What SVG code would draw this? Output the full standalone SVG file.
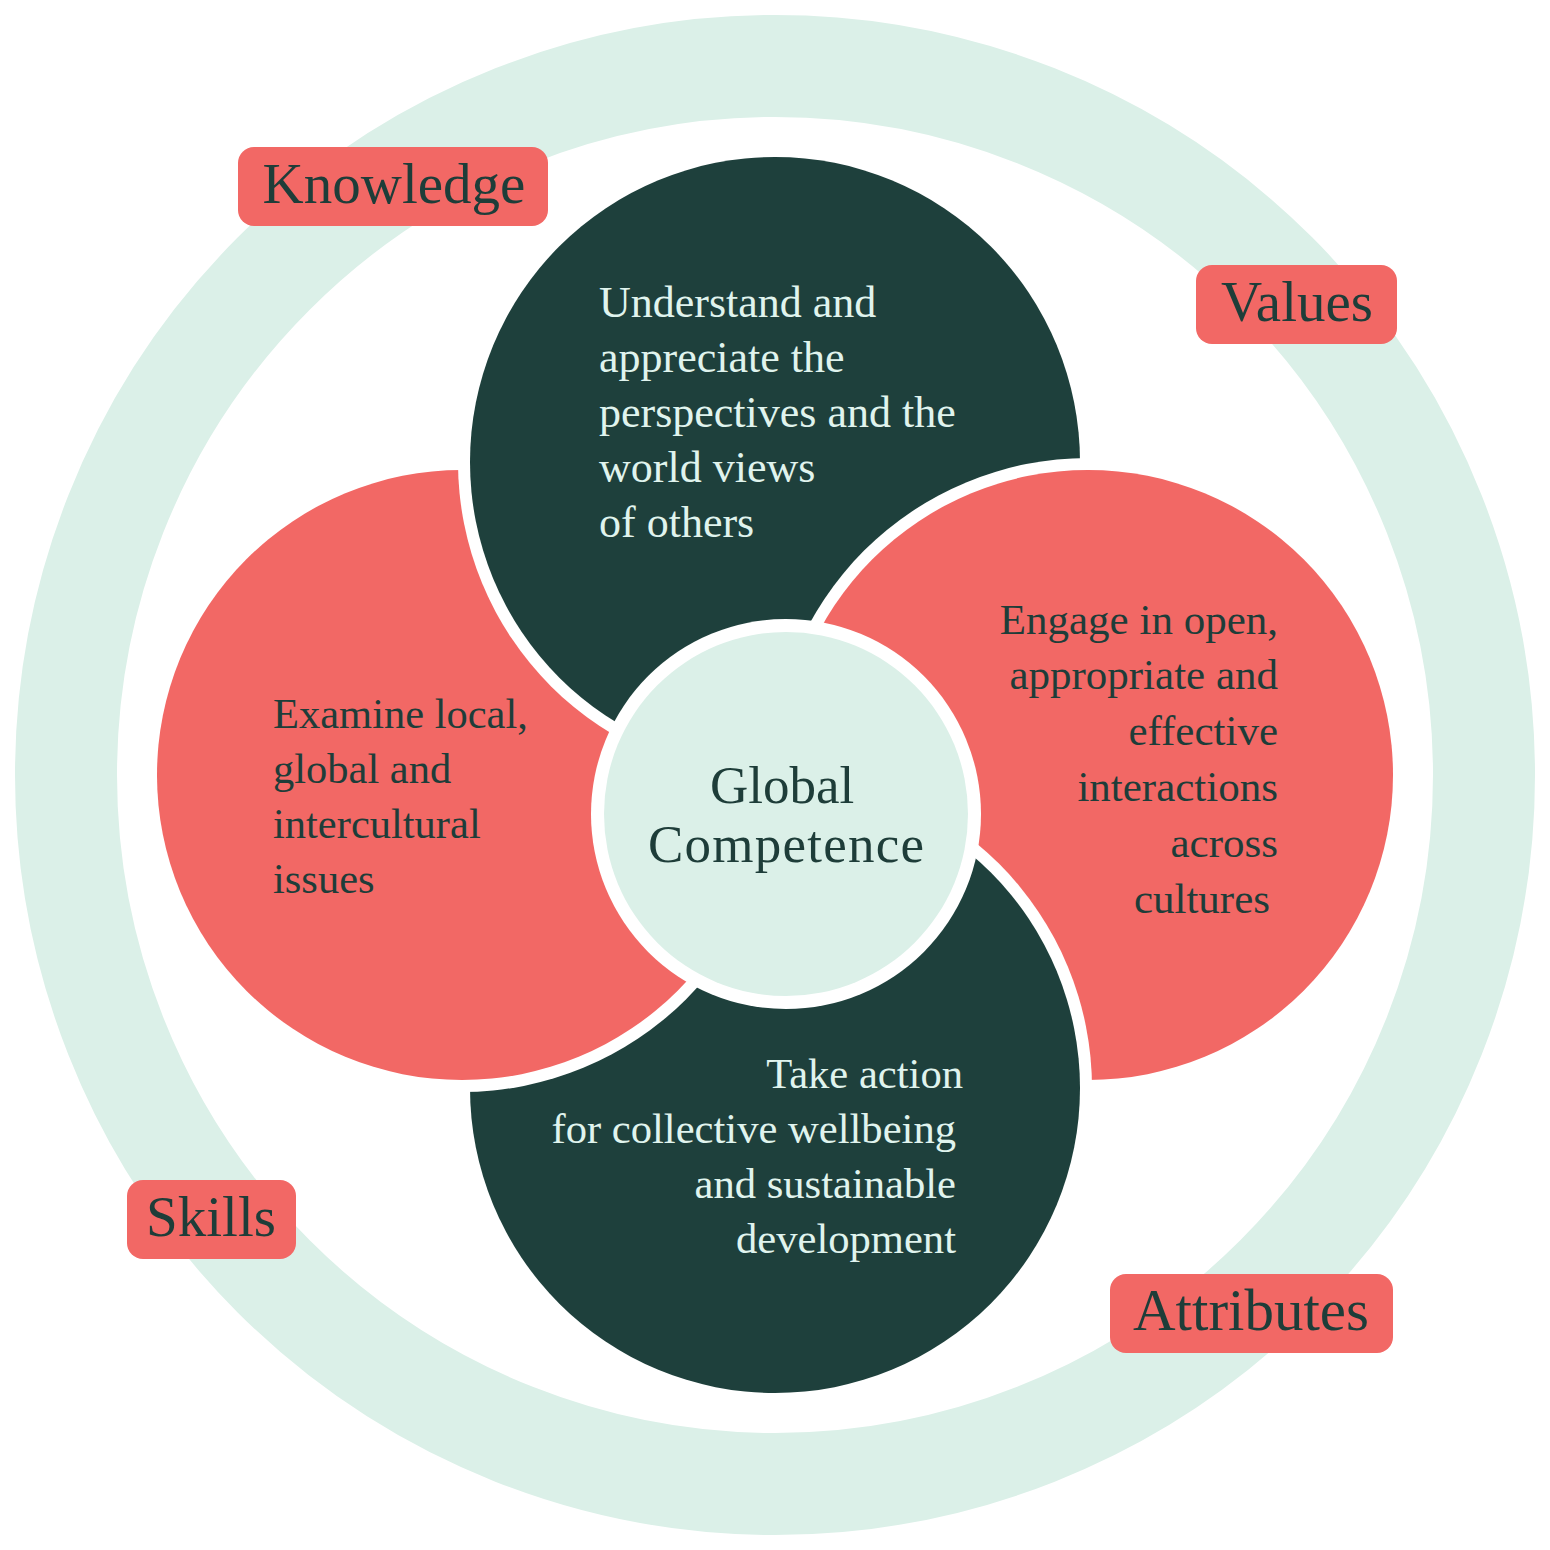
<svg xmlns="http://www.w3.org/2000/svg" width="1550" height="1550" viewBox="0 0 1550 1550">
  <defs>
    <style>
      .pink { fill: #f26865; }
      .dark { fill: #1e403c; }
      .mint { fill: #dbf0e8; }
      .gap { fill: #ffffff; }
      .lbl { font-family: "Liberation Serif", "Times New Roman", serif; font-size: 57px; fill: #1e3d39; text-anchor: middle; }
      .body { font-family: "Liberation Serif", "Times New Roman", serif; font-size: 43px; }
      .onDark { fill: #e0f4ee; }
      .onPink { fill: #1e3d39; }
      .center { font-family: "Liberation Serif", "Times New Roman", serif; font-size: 53px; fill: #1e3d39; text-anchor: middle; }
    </style>
    <clipPath id="lowerHalf">
      <rect x="0" y="776" width="1550" height="774"/>
    </clipPath>
  </defs>

  <rect x="0" y="0" width="1550" height="1550" fill="#ffffff"/>

  <g id="outer-ring">
    <circle cx="775" cy="775" r="709" fill="none" stroke="#dbf0e8" stroke-width="102"/>
  </g>

  <g id="petal-left">
    <circle cx="462" cy="775" r="317" class="gap"/>
    <circle cx="462" cy="775" r="305" class="pink"/>
  </g>
  <g id="petal-top">
    <circle cx="775" cy="462" r="317" class="gap"/>
    <circle cx="775" cy="462" r="305" class="dark"/>
  </g>
  <g id="petal-right">
    <circle cx="1088" cy="775" r="317" class="gap"/>
    <circle cx="1088" cy="775" r="305" class="pink"/>
  </g>
  <g id="petal-bottom">
    <circle cx="775" cy="1088" r="317" class="gap"/>
    <circle cx="775" cy="1088" r="305" class="dark"/>
  </g>
  <g id="petal-left-overlap" clip-path="url(#lowerHalf)">
    <circle cx="462" cy="775" r="317" class="gap"/>
    <circle cx="462" cy="775" r="305" class="pink"/>
  </g>

  <g id="center">
    <circle cx="786" cy="814" r="195" class="gap"/>
    <circle cx="786" cy="814" r="182" class="mint"/>
    <text class="center" x="782" y="803">Global</text>
    <text class="center" x="786" y="862" textLength="276" lengthAdjust="spacing">Competence</text>
  </g>

  <g id="text-top" class="body onDark" style="font-size:44px">
    <text x="599" y="317">Understand and</text>
    <text x="599" y="372">appreciate the</text>
    <text x="599" y="427">perspectives and the</text>
    <text x="599" y="482">world views</text>
    <text x="599" y="537">of others</text>
  </g>

  <g id="text-right" class="body onPink" text-anchor="end">
    <text x="1278" y="634">Engage in open,</text>
    <text x="1278" y="689">appropriate and</text>
    <text x="1278" y="745">effective</text>
    <text x="1278" y="801">interactions</text>
    <text x="1278" y="857">across</text>
    <text x="1270" y="913">cultures</text>
  </g>

  <g id="text-left" class="body onPink" style="font-size:42.5px">
    <text x="273" y="728">Examine local,</text>
    <text x="273" y="783">global and</text>
    <text x="273" y="838">intercultural</text>
    <text x="273" y="893">issues</text>
  </g>

  <g id="text-bottom" class="body onDark" text-anchor="end" style="font-size:42.6px">
    <text x="963" y="1088">Take action</text>
    <text x="956" y="1143">for collective wellbeing</text>
    <text x="956" y="1198">and sustainable</text>
    <text x="956" y="1253">development</text>
  </g>

  <g id="label-knowledge">
    <rect x="238" y="147" width="310" height="79" rx="16" class="pink"/>
    <text class="lbl" x="394" y="203">Knowledge</text>
  </g>
  <g id="label-values">
    <rect x="1196" y="265" width="201" height="79" rx="16" class="pink"/>
    <text class="lbl" x="1297" y="321">Values</text>
  </g>
  <g id="label-skills">
    <rect x="127" y="1180" width="169" height="79" rx="16" class="pink"/>
    <text class="lbl" x="211" y="1236">Skills</text>
  </g>
  <g id="label-attributes">
    <rect x="1110" y="1274" width="283" height="79" rx="16" class="pink"/>
    <text class="lbl" x="1251" y="1330" style="font-size:59px">Attributes</text>
  </g>

  <g id="connectors"></g>
</svg>
